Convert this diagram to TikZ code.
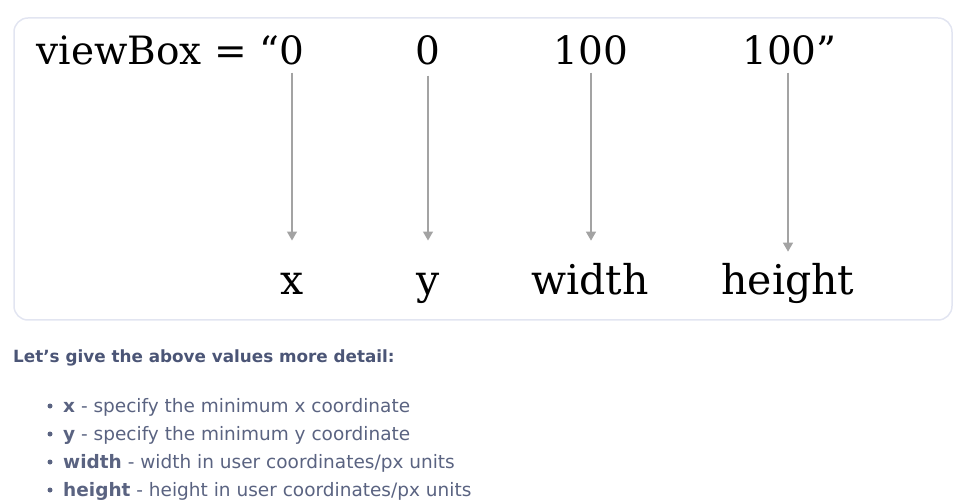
\documentclass[tikz,border=0pt]{standalone}
\usepackage{fontspec}
\setmainfont{DejaVu Serif}
\newfontfamily\uifont{DejaVu Sans}
\usetikzlibrary{arrows.meta}
\definecolor{boxline}{HTML}{E2E5F1}
\definecolor{arrowgray}{HTML}{A3A3A3}
\definecolor{headcol}{HTML}{4B5576}
\definecolor{bodycol}{HTML}{5A6381}
\begin{document}
\begin{tikzpicture}[x=1pt,y=-1pt,
  big/.style={inner sep=0pt, anchor=base, font=\fontsize{39}{41}\selectfont},
  lab/.style={inner sep=0pt, anchor=base, font=\fontsize{41}{44}\selectfont},
  pointer/.style={draw=arrowgray, line width=1.3pt, -{Triangle[width=10pt,length=9pt]}},
  head/.style={inner sep=0pt, anchor=base west, text=headcol, font=\uifont\bfseries\fontsize{16.8}{20}\selectfont},
  item/.style={inner sep=0pt, anchor=base west, text=bodycol, font=\uifont\fontsize{18.5}{22}\selectfont},
  dot/.style={circle, fill=bodycol, inner sep=0pt, minimum size=5pt}
]
\useasboundingbox (0,0) rectangle (963,502);
\draw[boxline, line width=1.5pt, rounded corners=14pt] (14,18) rectangle (952,320);
% top values
\node[big] (v0) at (292,65) {0};
\node[big, anchor=base east] (vb) at (v0.base west) {viewBox = “};
\node[big] (v1) at (428,65) {0};
\node[big] (v2) at (591,65) {100};
\node[big, anchor=base west] (v3) at (742,65) {100”};
% labels
\node[lab] (lx) at (292,295) {x};
\node[lab] (ly) at (428,295) {y};
\node[lab] (lw) at (590,295) {width};
\node[lab] (lh) at (788,295) {height};
% arrows
\draw[pointer] ([yshift=-7pt]v0.south) -- ([yshift=33pt]v0.south |- lx.north);
\draw[pointer] ([yshift=-10pt]v1.south) -- ([yshift=33pt]v1.south |- ly.north);
\draw[pointer] ([yshift=-7pt]v2.south) -- ([yshift=23pt]v2.south |- lw.north);
\draw[pointer] ([yshift=-7pt]v3.south -| lh.north) -- ([yshift=12pt]lh.north);
% text
\node[head] (hd) at (13,362) {Let’s give the above values more detail:};
\node[dot] (b1) at (50,406) {};
\node[item] (t1) at (63,412) {\textbf{x} - specify the minimum x coordinate};
\node[dot] (b2) at (50,434) {};
\node[item] (t2) at (63,440) {\textbf{y} - specify the minimum y coordinate};
\node[dot] (b3) at (50,462) {};
\node[item] (t3) at (63,468) {\textbf{width} - width in user coordinates/px units};
\node[dot] (b4) at (50,490) {};
\node[item] (t4) at (63,496) {\textbf{height} - height in user coordinates/px units};
\end{tikzpicture}
\end{document}
